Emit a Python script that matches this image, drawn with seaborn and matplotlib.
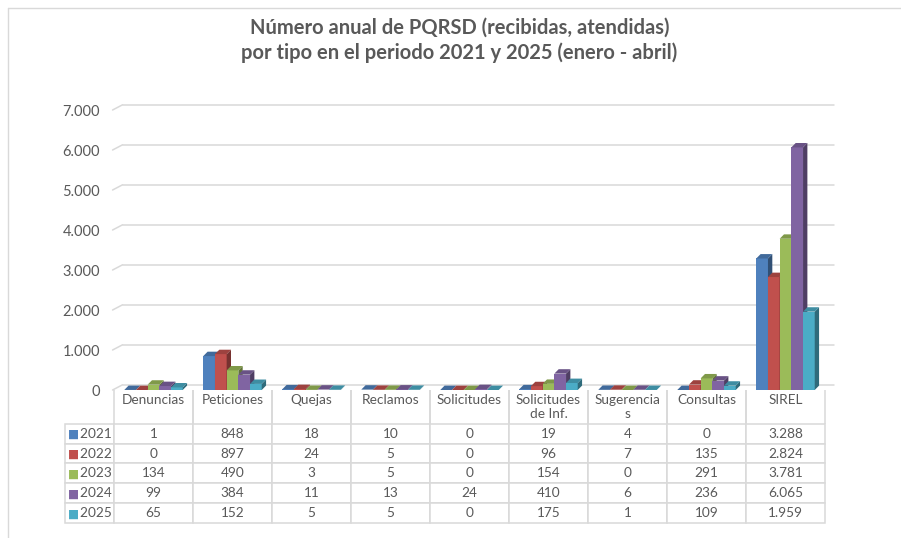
import numpy as np
import pandas as pd
import matplotlib
matplotlib.use("Agg")
import matplotlib.pyplot as plt
from matplotlib.patches import Polygon
from matplotlib.lines import Line2D
from matplotlib.ticker import FuncFormatter
import matplotlib.colors as mcolors
import seaborn as sns

# datos
categorias = ["Denuncias", "Peticiones", "Quejas", "Reclamos", "Solicitudes",
              "Solicitudes de Inf.", "Sugerencias", "Consultas", "SIREL"]
encabezados = ["Denuncias\n", "Peticiones\n", "Quejas\n", "Reclamos\n", "Solicitudes\n",
               "Solicitudes\nde Inf.", "Sugerencia\ns", "Consultas\n", "SIREL\n"]
anios = ["2021", "2022", "2023", "2024", "2025"]
v2021 = [1, 848, 18, 10, 0, 19, 4, 0, 3288]
v2022 = [0, 897, 24, 5, 0, 96, 7, 135, 2824]
v2023 = [134, 490, 3, 5, 0, 154, 0, 291, 3781]
v2024 = [99, 384, 11, 13, 24, 410, 6, 236, 6065]
v2025 = [65, 152, 5, 5, 0, 175, 1, 109, 1959]
colores = ["#4F81BD", "#C0504D", "#9BBB59", "#8064A2", "#4BACC6"]

series = [v2021, v2022, v2023, v2024, v2025]
df = pd.DataFrame({
    "tipo": categorias * len(anios),
    "anio": [a for a in anios for _ in categorias],
    "valor": [v for s in series for v in s],
})

sns.set_theme(style="white")
plt.rcParams["font.family"] = ["Lato", "DejaVu Sans"]
gris = "#595959"
linea = "#D9D9D9"

fig = plt.figure(figsize=(9.01, 5.38), dpi=100)
ax = fig.add_axes([114 / 901, 148 / 538, 711 / 901, 280 / 538])

sns.barplot(data=df, x="tipo", y="valor", hue="anio", palette=colores,
            width=0.74, order=categorias, hue_order=anios, legend=False,
            saturation=1, ax=ax)

ax.set_xlim(-0.5, len(categorias) - 0.5)
ax.set_ylim(0, 7000)

# efecto 3D: cara lateral y superior de cada barra
dx, dy = 0.055, 110
for i, p in enumerate(ax.patches):
    k = i // len(categorias)
    z = 3 + k * 0.1
    p.set_zorder(z)
    p.set_edgecolor("none")
    x0, w, h = p.get_x(), p.get_width(), p.get_height()
    c = np.array(mcolors.to_rgb(p.get_facecolor()))
    lado = Polygon([(x0 + w, 0), (x0 + w + dx, dy), (x0 + w + dx, h + dy), (x0 + w, h)],
                   closed=True, facecolor=c * 0.62, edgecolor="none", zorder=z)
    tapa = Polygon([(x0, h), (x0 + dx, h + dy), (x0 + w + dx, h + dy), (x0 + w, h)],
                   closed=True, facecolor=c * 0.82, edgecolor="none", zorder=z)
    ax.add_patch(lado)
    ax.add_patch(tapa)

# rejilla con perspectiva
ticks = np.arange(0, 7001, 1000)
tr = ax.get_yaxis_transform()
for t in ticks:
    ax.plot([-0.002, 0.012], [t, t + 130], color=linea, lw=1.1, transform=tr,
            clip_on=False, zorder=1)
    ax.plot([0.012, 1.013], [t + 130, t + 130], color=linea, lw=1.1, transform=tr,
            clip_on=False, zorder=1)

ax.set_yticks(ticks)
ax.yaxis.set_major_formatter(FuncFormatter(lambda v, _: f"{int(v):,}".replace(",", ".")))
ax.tick_params(axis="y", labelsize=10.5, labelcolor=gris, length=0, pad=10)
ax.set_xticks([])
ax.set_xlabel("")
ax.set_ylabel("")
for s in ax.spines.values():
    s.set_visible(False)

# tabla de datos
celdas = [[""] + encabezados]
for a, s in zip(anios, series):
    celdas.append(["    " + a] + [f"{v:,}".replace(",", ".") for v in s])

x_izq = (65 - 114) / 711
alto_tabla = (523 - 390) / 280
tabla = ax.table(cellText=celdas, cellLoc="center",
                 bbox=[x_izq, -alto_tabla, 1 - x_izq, alto_tabla])
tabla.auto_set_font_size(False)
tabla.set_fontsize(9.8)
for (r, c), cell in tabla.get_celld().items():
    cell.set_edgecolor(linea)
    cell.set_linewidth(1.1)
    cell.get_text().set_color(gris)
    cell.set_height(34 if r == 0 else 20)
    cell.set_width(49 if c == 0 else 79)
    if r == 0:
        cell.visible_edges = "" if c == 0 else "LR"
    if c == 0 and r > 0:
        cell.get_text().set_ha("left")
        cell._loc = "left"
        cell.PAD = 0.02

# marcadores de color en la tabla
fila0 = -34 / 280
for i, col in enumerate(colores):
    yc = fila0 - (i + 0.5) * 20 / 280
    ax.text((68 - 114) / 711, yc, "■", color=col, fontsize=8.5, va="center",
            ha="left", transform=ax.transAxes, family=["DejaVu Sans"])

fig.suptitle("Número anual de PQRSD (recibidas, atendidas)\n"
             "por tipo en el periodo 2021 y 2025 (enero - abril)",
             x=0.51, y=0.968, fontsize=14.5, fontweight="bold", color=gris,
             linespacing=1.3)

# bordes del recuadro
fig.add_artist(Line2D([8 / 901, 1], [1 - 8 / 538, 1 - 8 / 538], color=linea, lw=1))
fig.add_artist(Line2D([8 / 901, 8 / 901], [0, 1 - 8 / 538], color=linea, lw=1))

fig.savefig("out.png", dpi=100)
